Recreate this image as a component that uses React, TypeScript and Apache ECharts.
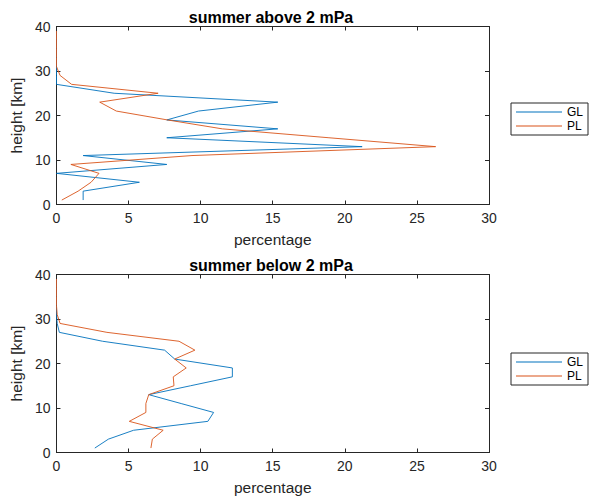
import React, { useEffect, useRef } from "react";
import * as echarts from "echarts";

const heights = [1, 3, 5, 7, 9, 11, 13, 15, 17, 19, 21, 23, 25, 27, 29, 31, 33, 35, 37, 39];
const aboveGL = [1.85, 1.85, 5.75, 0, 7.65, 1.85, 21.2, 7.65, 15.35, 7.65, 9.85, 15.35, 4.0, 0, 0, 0, 0, 0, 0, 0];
const abovePL = [0.37, 1.5, 2.4, 2.95, 1.0, 9.4, 26.3, 18.9, 11.5, 7.7, 4.15, 3.0, 7.05, 1.05, 0.25, 0, 0, 0, 0, 0];
const belowGL = [2.66, 3.6, 5.35, 10.5, 10.9, 8.65, 6.4, 9.3, 12.2, 12.2, 8.2, 7.5, 3.2, 0.2, 0.05, 0, 0, 0, 0, 0];
const belowPL = [6.55, 6.65, 7.4, 5.05, 6.2, 6.2, 6.4, 8.15, 8.1, 9.0, 8.2, 9.6, 8.5, 3.5, 0.25, 0.05, 0, 0, 0, 0];
const titles = ["summer above 2 mPa", "summer below 2 mPa"];
const seriesNames = ["GL", "PL"];
const colors = ["#0072BD", "#D95319"];

const FONT = "Liberation Sans, Arial, Helvetica, sans-serif";
const AX = "#262626";

export default function App() {
  const ref = useRef<HTMLDivElement>(null);
  useEffect(() => {
    if (!ref.current) return;
    const chart = echarts.init(ref.current, undefined, { renderer: "svg" });
    const grids = [
      { left: 53, top: 26.5, width: 436, height: 178 },
      { left: 53, top: 274.5, width: 436, height: 178 },
    ];
    const xAxes: any[] = [];
    const yAxes: any[] = [];
    grids.forEach((_, gi) => {
      const common = {
        gridIndex: gi,
        type: "value",
        axisLine: { show: true, onZero: false, lineStyle: { color: AX, width: 1 } },
        axisTick: { show: true, inside: true, length: 4, lineStyle: { color: AX } },
        splitLine: { show: false },
      };
      xAxes.push({
        ...common,
        position: "bottom",
        min: 0,
        max: 30,
        interval: 5,
        name: "percentage",
        nameLocation: "middle",
        nameGap: 27,
        nameTextStyle: { fontFamily: FONT, fontSize: 15.5, color: AX },
        axisLabel: { fontFamily: FONT, fontSize: 14, color: AX, margin: 6 },
      });
      xAxes.push({
        ...common,
        position: "top",
        min: 0,
        max: 30,
        interval: 5,
        axisLabel: { show: false },
      });
      yAxes.push({
        ...common,
        position: "left",
        min: 0,
        max: 40,
        interval: 10,
        name: "height [km]",
        nameLocation: "middle",
        nameGap: 24,
        nameTextStyle: { fontFamily: FONT, fontSize: 15.5, color: AX },
        axisLabel: { fontFamily: FONT, fontSize: 14, color: AX, margin: 6 },
      });
      yAxes.push({
        ...common,
        position: "right",
        min: 0,
        max: 40,
        interval: 10,
        axisLabel: { show: false },
      });
    });
    const data = [
      [aboveGL, abovePL],
      [belowGL, belowPL],
    ];
    const series: any[] = [];
    data.forEach((pair, gi) => {
      pair.forEach((vals, si) => {
        series.push({
          type: "line",
          name: seriesNames[si],
          xAxisIndex: gi * 2,
          yAxisIndex: gi * 2,
          symbol: "none",
          color: colors[si],
          lineStyle: { width: 0.9, color: colors[si] },
          data: heights.map((h, i) => [vals[i], h]),
        });
      });
    });
    const legendTops = [103, 353];
    chart.setOption({
      animation: false,
      backgroundColor: "#ffffff",
      title: titles.map((t, i) => ({
        text: t,
        left: 271,
        top: i === 0 ? 9 : 257,
        textAlign: "center",
        padding: 0,
        textStyle: { fontFamily: FONT, fontSize: 16, fontWeight: "bold", color: "#000" },
      })),
      grid: grids,
      xAxis: xAxes,
      yAxis: yAxes,
      legend: legendTops.map((t) => ({
        data: seriesNames,
        orient: "vertical",
        left: 511,
        top: t,
        icon: "rect",
        itemWidth: 46,
        itemHeight: 1,
        itemGap: 2,
        padding: [3, 5, 3, 5],
        borderColor: AX,
        borderWidth: 1,
        backgroundColor: "#fff",
        textStyle: { fontFamily: FONT, fontSize: 12, color: "#000", lineHeight: 12 },
        selectedMode: false,
      })),
      series,
    });
    return () => chart.dispose();
  }, []);
  return (
    <div
      ref={ref}
      style={{ position: "fixed", left: 0, top: 0, width: 591, height: 501, background: "#fff" }}
    />
  );
}
